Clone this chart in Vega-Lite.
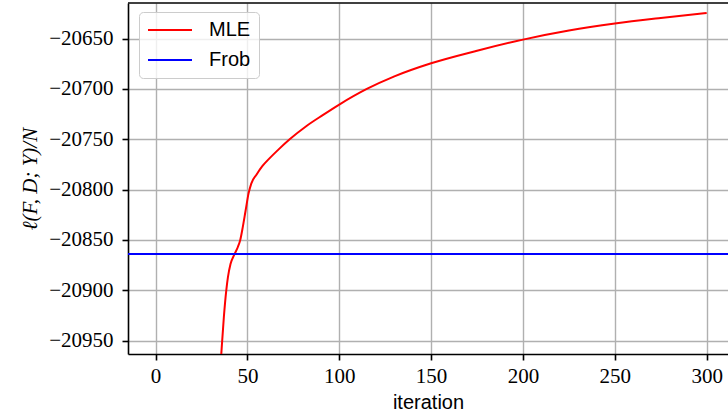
{
  "$schema": "https://vega.github.io/schema/vega-lite/v6.json",
  "autosize": "none",
  "padding": {"left": 128, "top": 3, "right": 0, "bottom": 65},
  "width": 600,
  "height": 351,
  "datasets": {
    "mle": [
      {"iteration": 35, "value": -20985, "series": "MLE"},
      {"iteration": 35.9, "value": -20960, "series": "MLE"},
      {"iteration": 37.2, "value": -20926, "series": "MLE"},
      {"iteration": 38.5, "value": -20900, "series": "MLE"},
      {"iteration": 39.4, "value": -20887, "series": "MLE"},
      {"iteration": 40.8, "value": -20874, "series": "MLE"},
      {"iteration": 43, "value": -20864, "series": "MLE"},
      {"iteration": 44.8, "value": -20857, "series": "MLE"},
      {"iteration": 46.1, "value": -20850, "series": "MLE"},
      {"iteration": 47.5, "value": -20837, "series": "MLE"},
      {"iteration": 49, "value": -20821, "series": "MLE"},
      {"iteration": 50.6, "value": -20804, "series": "MLE"},
      {"iteration": 52.1, "value": -20794, "series": "MLE"},
      {"iteration": 55, "value": -20785, "series": "MLE"},
      {"iteration": 58, "value": -20777, "series": "MLE"},
      {"iteration": 62, "value": -20769, "series": "MLE"},
      {"iteration": 67, "value": -20760, "series": "MLE"},
      {"iteration": 73, "value": -20750, "series": "MLE"},
      {"iteration": 82, "value": -20737, "series": "MLE"},
      {"iteration": 91, "value": -20726, "series": "MLE"},
      {"iteration": 100, "value": -20715.5, "series": "MLE"},
      {"iteration": 115, "value": -20700, "series": "MLE"},
      {"iteration": 130, "value": -20687.5, "series": "MLE"},
      {"iteration": 150, "value": -20674.5, "series": "MLE"},
      {"iteration": 175, "value": -20662, "series": "MLE"},
      {"iteration": 200, "value": -20651, "series": "MLE"},
      {"iteration": 225, "value": -20642, "series": "MLE"},
      {"iteration": 250, "value": -20635, "series": "MLE"},
      {"iteration": 275, "value": -20629.5, "series": "MLE"},
      {"iteration": 300, "value": -20624.6, "series": "MLE"}
    ],
    "frob": [
      {"value": -20863.9, "series": "Frob"}
    ],
    "frame": [
      {"top": -20614.6}
    ]
  },
  "layer": [
    {
      "data": {"name": "mle"},
      "mark": {"type": "line", "strokeWidth": 2, "interpolate": "monotone", "clip": true},
      "encoding": {
        "x": {
          "field": "iteration", "type": "quantitative",
          "scale": {"domain": [-15, 311.6], "nice": false, "zero": false},
          "axis": {"values": [0, 50, 100, 150, 200, 250, 300], "title": "iteration", "format": "d"}
        },
        "y": {
          "field": "value", "type": "quantitative",
          "scale": {"domain": [-20963.3, -20614.6], "nice": false, "zero": false},
          "axis": {"values": [-20950, -20900, -20850, -20800, -20750, -20700, -20650], "title": "ℓ(F, D; Y)/N", "format": "d"}
        },
        "color": {
          "field": "series", "type": "nominal",
          "scale": {"domain": ["MLE", "Frob"], "range": ["#ff0000", "#0000ff"]},
          "legend": {
            "title": null, "orient": "none", "legendX": 11, "legendY": 9,
            "symbolType": "stroke", "symbolSize": 1936, "symbolStrokeWidth": 2,
            "clipHeight": 20, "rowPadding": 10, "labelOffset": 16,
            "padding": 8, "fillColor": "rgba(255,255,255,0.8)", "strokeColor": "#cccccc",
            "cornerRadius": 4, "labelFont": "Liberation Sans", "labelFontSize": 20, "labelColor": "#000000"
          }
        }
      }
    },
    {
      "data": {"name": "frob"},
      "mark": {"type": "rule", "strokeWidth": 2},
      "encoding": {
        "y": {"field": "value", "type": "quantitative"},
        "color": {"field": "series", "type": "nominal"}
      }
    },
    {
      "data": {"name": "frame"},
      "mark": {"type": "rule", "strokeWidth": 1.6, "color": "#000000"},
      "encoding": {
        "y": {"field": "top", "type": "quantitative"}
      }
    }
  ],
  "config": {
    "view": {"stroke": null},
    "axis": {
      "labelFont": "Liberation Serif", "labelFontSize": 21, "labelColor": "#000000",
      "tickColor": "#000000", "tickWidth": 1.6, "tickSize": 6,
      "domainColor": "#000000", "domainWidth": 1.6,
      "gridColor": "#b0b0b0", "gridWidth": 1.4,
      "titleColor": "#000000", "titleFontWeight": "normal"
    },
    "axisX": {"labelPadding": 5, "titleFont": "Liberation Sans", "titleFontSize": 20, "titlePadding": 6},
    "axisY": {"labelPadding": 9, "titleFont": "Liberation Serif", "titleFontStyle": "italic", "titleFontSize": 21, "titlePadding": 8}
  }
}
